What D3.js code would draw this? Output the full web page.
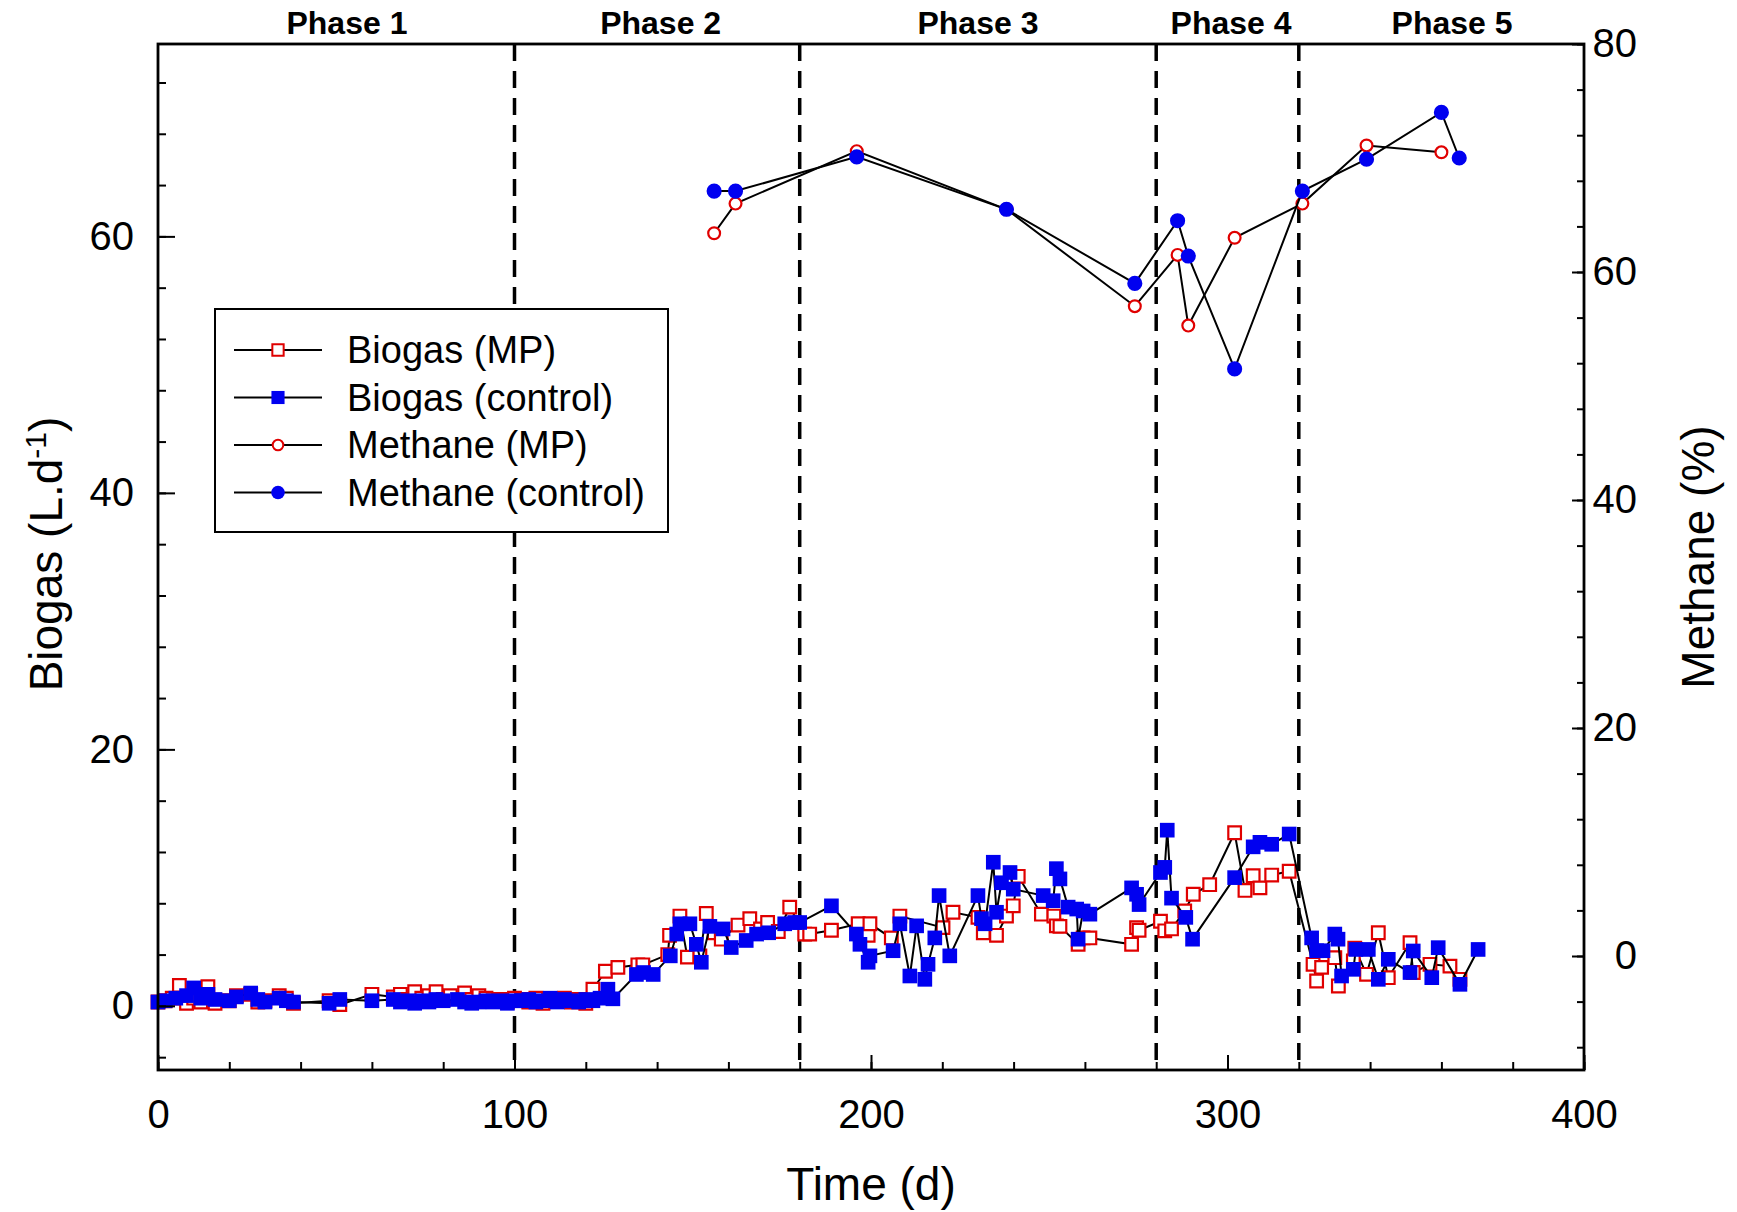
<!DOCTYPE html>
<html>
<head>
<meta charset="utf-8">
<script src="https://cdnjs.cloudflare.com/ajax/libs/d3/7.8.5/d3.min.js"></script>
<style>
body{margin:0;background:#fff;}
svg text{font-family:"Liberation Sans",Arial,sans-serif;fill:#000;}
</style>
</head>
<body>
<svg id="chart" width="1737" height="1212"></svg>
<script>
// phases of the run (days)
var phaseBounds=[100,180,280,320];
var phaseNames=["Phase 1","Phase 2","Phase 3","Phase 4","Phase 5"];
var phaseMid=[53,141,230,301,363];

var xTicks=[0,100,200,300,400];
var yLeftTicks=[0,20,40,60];
var yRightTicks=[0,20,40,60,80];

// biogas, L/d  [day, value]
var biogasMP=[[0,0.3],[2,0.4],[4,0.6],[6,1.6],[8,0.2],[10,0.6],[12,0.3],[14,1.5],[16,0.2],[20,0.4],[22,0.8],[26,0.9],[28,0.3],[30,0.4],[34,0.8],[36,0.6],[38,0.2],
	[48,0.4],[51,0.1],[60,0.9],[66,0.7],[68,0.9],[70,0.5],[72,1.1],[74,0.6],[76,0.8],[78,1.1],[80,0.5],[82,0.8],[86,1.0],[88,0.5],[90,0.8],[92,0.6],[94,0.4],[96,0.5],[98,0.3],[100,0.6],
	[102,0.5],[104,0.3],[106,0.6],[108,0.2],[110,0.5],[112,0.4],[114,0.6],[116,0.3],[118,0.5],[120,0.2],[122,1.3],[125.5,2.7],[129,3.0],[134.6,3.2],[136,3.2],
	[143,4.0],[143.5,5.5],[146.4,7.0],[148.5,3.8],[152,3.9],[153.8,7.2],[156,5.7],[158,5.2],[162.7,6.3],[166,6.8],[169,6.0],[171,6.5],[174,5.8],[177.2,7.7],[181.4,5.6],
	[182.8,5.6],[188.9,5.9],[196.4,6.4],[199.2,5.5],[199.7,6.4],[205.7,5.3],[208.1,7.0],[220.2,6.1],[223,7.3],[230,6.9],[231.5,5.7],[235.2,5.5],[238,7.0],[239.9,7.8],[241.3,10.1],
	[247.8,7.15],[251.3,7.0],[252,6.24],[253,6.2],[258.1,4.8],[259.5,5.3],[261.4,5.3],[273.1,4.8],[274.5,6.1],[275.2,5.9],
	[281.2,6.6],[282.4,5.85],[284.3,6.0],[288,7.4],[290.4,8.7],[295,9.45],[302,13.5],[304.9,9.0],[307.2,10.15],[309.1,9.2],[312.4,10.2],[317.3,10.5],
	[324,3.24],[325,1.94],[326.4,3.0],[330.1,3.76],[331.1,1.55],[335.3,3.5],[335.7,4.5],[339,2.46],[342.3,5.7],[345.1,2.2],[351.2,4.93],[352.1,2.6],[356.8,3.24],[362.4,3.1],[365.2,2.07]];

var biogasControl=[[0,0.3],[2,0.4],[5,0.6],[8,0.8],[10,1.4],[12,0.6],[14,0.9],[16,0.5],[20,0.4],[22,0.7],[26,1.0],[28,0.5],[30,0.3],[34,0.6],[36,0.4],[38,0.3],
	[48,0.2],[51,0.5],[60,0.4],[66,0.5],[68,0.3],[70,0.4],[72,0.2],[74,0.4],[76,0.3],[78,0.5],[80,0.4],[84,0.5],[86,0.3],[88,0.2],[90,0.3],[92,0.4],[94,0.3],[96,0.4],[98,0.2],[100,0.4],
	[102,0.4],[104,0.5],[106,0.3],[108,0.4],[110,0.6],[112,0.3],[114,0.5],[116,0.4],[118,0.3],[120,0.5],[122,0.4],[124,0.6],[126.2,1.3],[127.6,0.55],
	[134.2,2.45],[136.2,2.6],[138.9,2.45],[143.7,3.9],[145.5,5.6],[146.4,6.4],[149.2,6.4],[151,4.8],[152.4,3.4],[154.8,6.2],[158.5,6.0],[160.8,4.55],[165,5.1],[167.9,5.6],[171.3,5.7],[175.8,6.4],[178.6,6.5],
	[180,6.5],[188.9,7.8],[195.9,5.6],[196.9,4.8],[199.2,3.4],[199.7,3.9],[206.2,4.3],[208.1,6.4],[210.9,2.33],[212.8,6.24],[215.1,2.07],[216,3.24],[217.9,5.3],[219.1,8.6],[222.1,3.9],
	[230,8.6],[231,6.8],[232,6.4],[234.3,11.2],[235.2,7.3],[236.6,9.6],[239,10.4],[239.9,9.1],[248.3,8.6],[251.1,8.2],[252,10.7],[253,9.9],[255.3,7.7],[257.7,7.55],[258.1,5.2],[259.5,7.4],[261.4,7.15],
	[273.1,9.2],[274.5,8.7],[275.2,7.9],
	[281.2,10.4],[282.4,10.8],[283.1,13.7],[284.3,8.4],[288.3,6.9],[290.2,5.2],[302,10.0],[307.2,12.4],[309.1,12.75],[312.4,12.6],[317.3,13.4],
	[323.6,5.3],[325,4.3],[326.8,4.3],[330.1,5.6],[331,5.2],[332,2.33],[335.3,2.85],[336,4.4],[339.5,4.4],[342.3,2.07],[345.1,3.63],[351.2,2.6],[352.1,4.28],[357.3,2.2],[359.1,4.54],[365.2,1.68],[370.3,4.4]];

// methane, %  [day, value]
var methaneMP=[[156,63.4],[162,66.0],[196,70.6],[238,65.5],[274,57.0],[286,61.5],[289,55.3],[302,63.0],[321,66.0],[339,71.1],[360,70.5]];
var methaneControl=[[156,67.1],[162,67.1],[196,70.1],[238,65.5],[274,59.0],[286,64.5],[289,61.4],[302,51.5],[321,67.1],[339,69.9],[360,74.0],[365,70.0]];

var W=1737, H=1212;
var plot={left:158,right:1584,top:44,bottom:1070};

var svg=d3.select("#chart");
svg.append("rect").attr("width",W).attr("height",H).attr("fill","#fff");

var x=d3.scaleLinear().domain([0,400]).range([plot.left,plot.right]);
var yL=d3.scaleLinear().domain([-5,75]).range([plot.bottom,plot.top]);
var yR=d3.scaleLinear().domain([-10,80]).range([plot.bottom,plot.top]);

// series setup - order is draw order (control on top)
var series=[
	{name:"Biogas (MP)",data:biogasMP,y:yL,shape:d3.symbolSquare,size:160,fill:"#fff",stroke:"#e00000"},
	{name:"Biogas (control)",data:biogasControl,y:yL,shape:d3.symbolSquare,size:215,fill:"#0000f0",stroke:"none"},
	{name:"Methane (MP)",data:methaneMP,y:yR,shape:d3.symbolCircle,size:110,fill:"#fff",stroke:"#e00000"},
	{name:"Methane (control)",data:methaneControl,y:yR,shape:d3.symbolCircle,size:180,fill:"#0000f0",stroke:"none"}
];

// phase separators
svg.append("g").selectAll("line").data(phaseBounds).enter().append("line")
	.attr("x1",function(d){return x(d);}).attr("x2",function(d){return x(d);})
	.attr("y1",plot.top).attr("y2",plot.bottom)
	.attr("stroke","#000").attr("stroke-width",3.5).attr("stroke-dasharray","17,10");

svg.append("g").selectAll("text").data(phaseNames).enter().append("text")
	.attr("x",function(d,i){return x(phaseMid[i]);}).attr("y",34)
	.attr("text-anchor","middle").style("font-size","32px").style("font-weight","bold")
	.text(function(d){return d;});

// data
series.forEach(function(s){
	var g=svg.append("g");
	var line=d3.line().x(function(d){return x(d[0]);}).y(function(d){return s.y(d[1]);});
	g.append("path").datum(s.data).attr("d",line)
		.attr("fill","none").attr("stroke","#000").attr("stroke-width",2);
	g.selectAll("path.pt").data(s.data).enter().append("path").attr("class","pt")
		.attr("d",d3.symbol().type(s.shape).size(s.size))
		.attr("transform",function(d){return "translate("+x(d[0])+","+s.y(d[1])+")";})
		.attr("fill",s.fill).attr("stroke",s.stroke).attr("stroke-width",2.2);
});

// frame
svg.append("rect").attr("x",plot.left).attr("y",plot.top)
	.attr("width",plot.right-plot.left).attr("height",plot.bottom-plot.top)
	.attr("fill","none").attr("stroke","#000").attr("stroke-width",2.8);

// axes, ticks point inward
function styleAxis(g,fs){
	g.select(".domain").remove();
	g.selectAll(".tick line").attr("stroke","#000").attr("stroke-width",2);
	g.selectAll("text").style("font-size",fs).attr("fill","#000");
}
var gx=svg.append("g").attr("transform","translate(0,"+plot.bottom+")")
	.call(d3.axisBottom(x).tickValues(xTicks).tickSize(-15).tickPadding(30).tickFormat(d3.format("d")));
styleAxis(gx,"40px");
var gxm=svg.append("g").attr("transform","translate(0,"+plot.bottom+")")
	.call(d3.axisBottom(x).tickValues(d3.range(0,401,20)).tickSize(-8).tickFormat(""));
styleAxis(gxm,"0px");

var gl=svg.append("g").attr("transform","translate("+plot.left+",0)")
	.call(d3.axisLeft(yL).tickValues(yLeftTicks).tickSize(-17).tickPadding(24).tickFormat(d3.format("d")));
styleAxis(gl,"40px");
var glm=svg.append("g").attr("transform","translate("+plot.left+",0)")
	.call(d3.axisLeft(yL).tickValues(d3.range(-4,75,4)).tickSize(-8).tickFormat(""));
styleAxis(glm,"0px");

var gr=svg.append("g").attr("transform","translate("+plot.right+",0)")
	.call(d3.axisRight(yR).tickValues(yRightTicks).tickSize(-12).tickFormat(d3.format("d")));
styleAxis(gr,"40px");
gr.selectAll("text").attr("x",53).attr("text-anchor","end");
var grm=svg.append("g").attr("transform","translate("+plot.right+",0)")
	.call(d3.axisRight(yR).tickValues(d3.range(-8,81,4)).tickSize(-7).tickFormat(""));
styleAxis(grm,"0px");

// axis titles
svg.append("text").attr("x",(plot.left+plot.right)/2).attr("y",1200)
	.attr("text-anchor","middle").style("font-size","46px").text("Time (d)");

var lt=svg.append("text").attr("transform","translate(62,554) rotate(-90)")
	.attr("text-anchor","middle").style("font-size","46px");
lt.append("tspan").text("Biogas (L.d");
lt.append("tspan").attr("dy",-16).style("font-size","30px").text("-1");
lt.append("tspan").attr("dy",16).text(")");

svg.append("text").attr("transform","translate(1714,557) rotate(-90)")
	.attr("text-anchor","middle").style("font-size","46px").text("Methane (%)");

// legend
var lg=svg.append("g");
lg.append("rect").attr("x",215).attr("y",309).attr("width",453).attr("height",223)
	.attr("fill","#fff").attr("stroke","#000").attr("stroke-width",2);
series.forEach(function(s,i){
	var cy=350+i*47.5;
	lg.append("line").attr("x1",234).attr("x2",322).attr("y1",cy).attr("y2",cy)
		.attr("stroke","#000").attr("stroke-width",1.8);
	lg.append("path").attr("d",d3.symbol().type(s.shape).size(s.size*0.8))
		.attr("transform","translate(278,"+cy+")")
		.attr("fill",s.fill).attr("stroke",s.stroke).attr("stroke-width",2);
	lg.append("text").attr("x",347).attr("y",cy).attr("dy","0.35em")
		.style("font-size","38px").text(s.name);
});
</script>
</body>
</html>
